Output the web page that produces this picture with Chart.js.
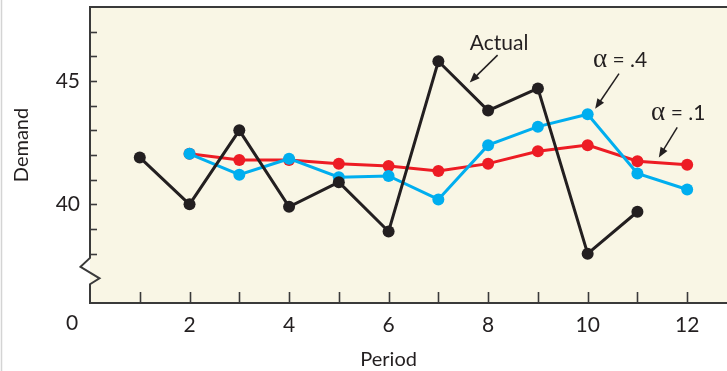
<!DOCTYPE html>
<html>
<head>
<meta charset="utf-8">
<style>
  html, body { margin: 0; padding: 0; background: #ffffff; }
  #wrap { width: 727px; height: 371px; position: relative; }
</style>
<script src="https://cdn.jsdelivr.net/npm/chart.js@4/dist/chart.umd.min.js"></script>
</head>
<body>
<div id="wrap"><canvas id="c" width="727" height="371"></canvas></div>
<script>
// ---- data ----
const actualPeriods = [1, 2, 3, 4, 5, 6, 7, 8, 9, 10, 11];
const actualDemand  = [41.9, 40.0, 43.0, 39.9, 40.9, 38.9, 45.8, 43.8, 44.7, 38.0, 39.7];

const forecastPeriods = [2, 3, 4, 5, 6, 7, 8, 9, 10, 11, 12];
const forecastAlpha04 = [42.05, 41.2, 41.85, 41.1, 41.15, 40.2, 42.4, 43.15, 43.65, 41.25, 40.6];
const forecastAlpha01 = [42.05, 41.8, 41.8, 41.65, 41.55, 41.35, 41.65, 42.15, 42.4, 41.75, 41.6];

const xTickLabels = [2, 4, 6, 8, 10, 12];
const yTickLabels = [40, 45];
const xMinorTicks = [1, 2, 3, 4, 5, 6, 7, 8, 9, 10, 11, 12];
const yMinorTicks = [38, 39, 40, 41, 42, 43, 44, 45, 46, 47];

const seriesLabels = ['Actual', 'α = .4', 'α = .1'];

// annotation anchors (data coordinates): text baseline position, arrow start, arrow end
const notes = [
  { alpha: false, text: 'Actual', tx: 8.22, ty: 46.26, ax1: 8.19, ay1: 46.05, ax2: 7.63, ay2: 44.94 },
  { alpha: true,  text: ' = .4',  tx: 10.65, ty: 45.58, ax1: 10.63, ay1: 45.3, ax2: 10.15, ay2: 43.87 },
  { alpha: true,  text: ' = .1',  tx: 11.82, ty: 43.42, ax1: 11.80, ay1: 43.12, ax2: 11.43, ay2: 41.9 }
];

const INK = '#231f20';
const BLACK = '#231f20';
const CYAN = '#00aeef';
const RED = '#ed1c24';
const CREAM = '#f9f6e5';
const FONT = 'Lato, "Open Sans", sans-serif';
const LABEL_SIZE = 21;

function pts(xs, ys) { return xs.map((x, i) => ({ x: x, y: ys[i] })); }

function arrow(ctx, x1, y1, x2, y2) {
  const ang = Math.atan2(y2 - y1, x2 - x1);
  const len = 10, hw = 4;
  ctx.beginPath();
  ctx.moveTo(x1, y1);
  ctx.lineTo(x2 - Math.cos(ang) * len * 0.8, y2 - Math.sin(ang) * len * 0.8);
  ctx.stroke();
  ctx.beginPath();
  ctx.moveTo(x2, y2);
  ctx.lineTo(x2 - Math.cos(ang) * len + Math.sin(ang) * hw, y2 - Math.sin(ang) * len - Math.cos(ang) * hw);
  ctx.lineTo(x2 - Math.cos(ang) * len - Math.sin(ang) * hw, y2 - Math.sin(ang) * len + Math.cos(ang) * hw);
  ctx.closePath();
  ctx.fill();
}

const framePlugin = {
  id: 'frame',
  beforeDraw(chart) {
    const { ctx, chartArea: a } = chart;
    ctx.save();
    ctx.fillStyle = CREAM;
    ctx.fillRect(a.left, a.top, a.right - a.left, a.bottom - a.top);
    // faint page border at left
    ctx.strokeStyle = '#d4d4d4';
    ctx.lineWidth = 1.5;
    ctx.beginPath();
    ctx.moveTo(1.5, 0); ctx.lineTo(1.5, chart.height);
    ctx.stroke();
    ctx.restore();
  },
  beforeDatasetsDraw(chart) {
    const { ctx, chartArea: a } = chart;
    const xs = chart.scales.x, ys = chart.scales.y;
    ctx.save();
    ctx.strokeStyle = '#3a3a3a';
    ctx.lineWidth = 2;
    // top frame line
    ctx.beginPath();
    ctx.moveTo(a.left - 1, a.top); ctx.lineTo(a.right, a.top);
    ctx.stroke();
    // x axis line
    ctx.beginPath();
    ctx.moveTo(a.left - 1, a.bottom); ctx.lineTo(a.right, a.bottom);
    ctx.stroke();
    // y axis with break symbol
    const x0 = a.left;
    ctx.beginPath();
    ctx.moveTo(x0, a.top);
    ctx.lineTo(x0, ys.getPixelForValue(37.83));
    ctx.lineTo(x0 - 9.5, ys.getPixelForValue(37.47));
    ctx.lineTo(x0 + 9.5, ys.getPixelForValue(37.0));
    ctx.lineTo(x0, ys.getPixelForValue(36.76));
    ctx.lineTo(x0, a.bottom);
    ctx.lineJoin = 'miter';
    ctx.stroke();
    // inward tick marks
    ctx.lineWidth = 1.6;
    xMinorTicks.forEach(v => {
      const px = Math.round(xs.getPixelForValue(v)) + 0.5;
      ctx.beginPath();
      ctx.moveTo(px, a.bottom); ctx.lineTo(px, a.bottom - 11);
      ctx.stroke();
    });
    yMinorTicks.forEach(v => {
      const py = Math.round(ys.getPixelForValue(v)) + 0.5;
      ctx.beginPath();
      ctx.moveTo(x0, py); ctx.lineTo(x0 + 7, py);
      ctx.stroke();
    });
    ctx.restore();
  },
  afterDraw(chart) {
    const { ctx, chartArea: a } = chart;
    const xs = chart.scales.x, ys = chart.scales.y;
    ctx.save();
    ctx.fillStyle = INK;
    ctx.strokeStyle = INK;
    // origin label "0"
    ctx.font = LABEL_SIZE + 'px ' + FONT;
    ctx.textAlign = 'center';
    ctx.textBaseline = 'alphabetic';
    ctx.fillText('0', xs.getPixelForValue(0) - 18, a.bottom + 27);
    // axis titles
    ctx.font = '20px ' + FONT;
    ctx.fillText('Period', xs.getPixelForValue(6), a.bottom + 63);
    ctx.save();
    ctx.translate(27.5, 145);
    ctx.rotate(-Math.PI / 2);
    ctx.fillText('Demand', 0, 0);
    ctx.restore();
    // annotations
    ctx.lineWidth = 1.5;
    notes.forEach(n => {
      const cx = xs.getPixelForValue(n.tx), by = ys.getPixelForValue(n.ty);
      if (n.alpha) {
        ctx.font = '27px "Liberation Serif", serif';
        const wa = ctx.measureText('α').width;
        ctx.font = '21px ' + FONT;
        const wt = ctx.measureText(n.text).width;
        const left = cx - (wa + wt) / 2;
        ctx.textAlign = 'left';
        ctx.font = '27px "Liberation Serif", serif';
        ctx.fillText('α', left, by);
        ctx.font = '21px ' + FONT;
        ctx.fillText(n.text, left + wa, by);
      } else {
        ctx.textAlign = 'center';
        ctx.font = '21px ' + FONT;
        ctx.fillText(n.text, cx, by);
      }
      arrow(ctx, xs.getPixelForValue(n.ax1), ys.getPixelForValue(n.ay1),
                 xs.getPixelForValue(n.ax2), ys.getPixelForValue(n.ay2));
    });
    ctx.restore();
  }
};

const lineStyle = (color) => ({
  borderColor: color,
  backgroundColor: color,
  pointBackgroundColor: color,
  pointBorderColor: color,
  borderWidth: 3,
  pointRadius: 6,
  pointHoverRadius: 6,
  pointBorderWidth: 0,
  tension: 0,
  fill: false
});

new Chart(document.getElementById('c'), {
  type: 'line',
  data: {
    datasets: [
      Object.assign({ label: seriesLabels[0], data: pts(actualPeriods, actualDemand) }, lineStyle(BLACK)),
      Object.assign({ label: seriesLabels[1], data: pts(forecastPeriods, forecastAlpha04) }, lineStyle(CYAN)),
      Object.assign({ label: seriesLabels[2], data: pts(forecastPeriods, forecastAlpha01) }, lineStyle(RED))
    ]
  },
  options: {
    responsive: false,
    animation: false,
    devicePixelRatio: 1,
    layout: { autoPadding: false, padding: { top: 7, left: 0, right: 0, bottom: 0 } },
    plugins: { legend: { display: false }, tooltip: { enabled: false } },
    scales: {
      x: {
        type: 'linear',
        min: 0,
        max: 12.8,
        grid: { display: false, drawTicks: false },
        border: { display: false },
        ticks: {
          stepSize: 2,
          includeBounds: false,
          autoSkip: false,
          maxRotation: 0,
          padding: 10,
          color: INK,
          font: { family: FONT, size: LABEL_SIZE },
          callback: v => xTickLabels.includes(v) ? String(v) : ''
        },
        afterFit(s) { s.height = 68; s.paddingLeft = 0; s.paddingRight = 0; }
      },
      y: {
        type: 'linear',
        min: 36,
        max: 48,
        grid: { display: false, drawTicks: false },
        border: { display: false },
        ticks: {
          stepSize: 1,
          autoSkip: false,
          padding: 10,
          color: INK,
          font: { family: FONT, size: LABEL_SIZE },
          callback: v => yTickLabels.includes(v) ? String(v) : ''
        },
        afterFit(s) { s.width = 90; s.paddingTop = 0; s.paddingBottom = 0; }
      }
    }
  },
  plugins: [framePlugin]
});
</script>
</body>
</html>
